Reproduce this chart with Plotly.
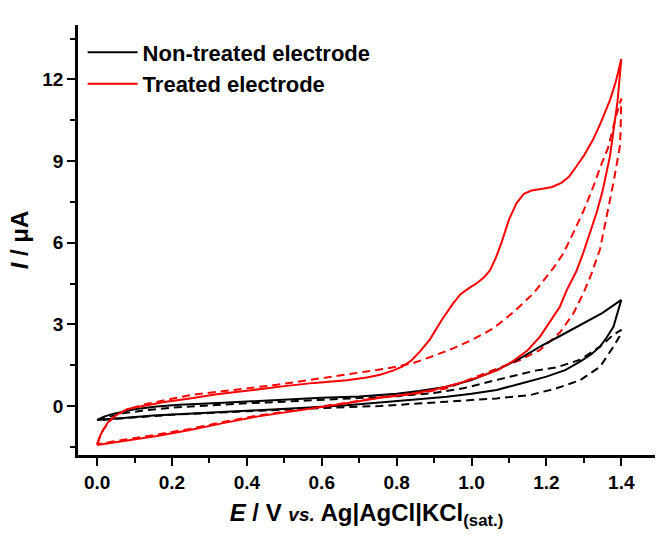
import plotly.graph_objects as go

# ---- data: treated electrode, solid (cycle A) ----
treated_solid_E = [0.000, 0.008, 0.016, 0.030, 0.052, 0.080, 0.115, 0.180, 0.248, 0.315, 0.382, 0.450,
                   0.506, 0.580, 0.667, 0.720, 0.756, 0.790, 0.815, 0.840, 0.862, 0.889, 0.920, 0.950, 0.970,
                   0.995, 1.015, 1.035, 1.050, 1.065, 1.080, 1.100, 1.120, 1.140, 1.160, 1.190, 1.215,
                   1.240, 1.260, 1.280, 1.300, 1.325, 1.345, 1.370, 1.385, 1.400,
                   1.390, 1.370, 1.350, 1.334, 1.315, 1.299, 1.280, 1.254, 1.236, 1.210, 1.183, 1.150,
                   1.111, 1.070, 1.023, 0.970, 0.900, 0.840, 0.756, 0.667, 0.580, 0.506, 0.426, 0.340,
                   0.248, 0.160, 0.070, 0.026, 0.000]
treated_solid_I = [-1.43, -1.10, -0.88, -0.58, -0.33, -0.12, -0.02, 0.15, 0.28, 0.42, 0.53, 0.65,
                   0.74, 0.85, 0.95, 1.05, 1.15, 1.30, 1.45, 1.68, 2.00, 2.45, 3.15, 3.75, 4.10,
                   4.35, 4.52, 4.75, 5.00, 5.45, 6.00, 6.85, 7.45, 7.80, 7.92, 7.98, 8.05,
                   8.20, 8.42, 8.80, 9.20, 9.80, 10.40, 11.25, 11.90, 12.75,
                   11.20, 9.20, 7.90, 7.10, 6.30, 5.65, 4.95, 4.25, 3.65, 3.10, 2.55, 2.05,
                   1.65, 1.32, 1.08, 0.85, 0.60, 0.45, 0.30, 0.10, -0.08, -0.21, -0.39, -0.62,
                   -0.88, -1.10, -1.27, -1.37, -1.43]

# ---- data: treated electrode, dashed (cycle B) ----
treated_dash_E = [0.000, 0.015, 0.040, 0.080, 0.133, 0.190, 0.248, 0.320, 0.400, 0.480, 0.540, 0.622,
                  0.711, 0.774, 0.800, 0.845, 0.900, 0.951, 1.000, 1.058, 1.112, 1.165, 1.218, 1.245,
                  1.273, 1.300, 1.325, 1.343, 1.365, 1.385, 1.400,
                  1.397, 1.379, 1.361, 1.343, 1.320, 1.299, 1.272, 1.236, 1.183, 1.130, 1.058, 1.000,
                  0.934, 0.850, 0.756, 0.667, 0.580, 0.506, 0.426, 0.340, 0.248, 0.160, 0.070, 0.026, 0.000]
treated_dash_I = [-1.40, -0.90, -0.45, -0.12, 0.08, 0.25, 0.40, 0.52, 0.64, 0.78, 0.90, 1.06,
                  1.25, 1.38, 1.45, 1.58, 1.85, 2.12, 2.42, 2.85, 3.45, 4.13, 5.06, 5.60,
                  6.40, 7.20, 8.05, 8.75, 9.50, 10.60, 11.30,
                  9.60, 8.20, 6.95, 5.75, 4.85, 4.15, 3.40, 2.70, 2.06, 1.69, 1.32, 1.00,
                  0.65, 0.45, 0.32, 0.12, -0.06, -0.19, -0.36, -0.58, -0.84, -1.05, -1.24, -1.35, -1.40]

# ---- data: non-treated electrode, solid ----
nontreated_solid_E = [0.000, 0.020, 0.045, 0.070, 0.100, 0.159, 0.220, 0.337, 0.420, 0.506, 0.600, 0.700,
                      0.756, 0.800, 0.860, 0.934, 1.000, 1.067, 1.130, 1.183, 1.240, 1.290, 1.350, 1.400,
                      1.390, 1.379, 1.360, 1.343, 1.320, 1.290, 1.250, 1.200, 1.130, 1.067, 1.000, 0.934,
                      0.850, 0.756, 0.667, 0.580, 0.506, 0.400, 0.300, 0.220, 0.150, 0.070, 0.030, 0.000]
nontreated_solid_I = [-0.51, -0.38, -0.28, -0.20, -0.12, -0.02, 0.05, 0.12, 0.18, 0.24, 0.30, 0.35,
                      0.40, 0.45, 0.55, 0.71, 0.95, 1.32, 1.75, 2.18, 2.60, 2.97, 3.42, 3.90,
                      3.40, 2.91, 2.50, 2.18, 1.90, 1.63, 1.32, 1.08, 0.82, 0.59, 0.45, 0.34,
                      0.24, 0.12, 0.03, -0.05, -0.10, -0.17, -0.24, -0.29, -0.35, -0.44, -0.48, -0.51]

# ---- data: non-treated electrode, dashed ----
nontreated_dash_E = [0.000, 0.030, 0.070, 0.120, 0.200, 0.300, 0.400, 0.500, 0.600, 0.700, 0.800, 0.900,
                     0.978, 1.050, 1.112, 1.170, 1.227, 1.290, 1.343, 1.379, 1.400,
                     1.395, 1.379, 1.343, 1.290, 1.227, 1.156, 1.067, 0.934, 0.850, 0.756, 0.667, 0.580,
                     0.500, 0.400, 0.300, 0.200, 0.120, 0.050, 0.000]
nontreated_dash_I = [-0.52, -0.40, -0.27, -0.17, -0.06, 0.03, 0.10, 0.16, 0.22, 0.28, 0.36, 0.48,
                     0.65, 0.90, 1.12, 1.30, 1.42, 1.70, 2.18, 2.62, 2.80,
                     2.55, 2.18, 1.44, 0.95, 0.65, 0.40, 0.28, 0.16, 0.08, 0.00, -0.04, -0.08,
                     -0.12, -0.19, -0.26, -0.32, -0.40, -0.47, -0.52]

legend_names = ["Non-treated electrode", "Treated electrode"]
x_ticks = [0.0, 0.2, 0.4, 0.6, 0.8, 1.0, 1.2, 1.4]
x_tick_labels = ["0.0", "0.2", "0.4", "0.6", "0.8", "1.0", "1.2", "1.4"]
y_ticks = [0, 3, 6, 9, 12]
y_tick_labels = ["0", "3", "6", "9", "12"]

BLACK = "#000000"
RED = "#ff0000"
DASH = "8px,5px"

fig = go.Figure()
fig.add_trace(go.Scatter(x=nontreated_dash_E, y=nontreated_dash_I, mode="lines",
                         line=dict(color=BLACK, width=2, dash=DASH), showlegend=False))
fig.add_trace(go.Scatter(x=treated_dash_E, y=treated_dash_I, mode="lines",
                         line=dict(color=RED, width=2, dash=DASH), showlegend=False))
fig.add_trace(go.Scatter(x=nontreated_solid_E, y=nontreated_solid_I, mode="lines", name=legend_names[0],
                         line=dict(color=BLACK, width=2), legendrank=1))
fig.add_trace(go.Scatter(x=treated_solid_E, y=treated_solid_I, mode="lines", name=legend_names[1],
                         line=dict(color=RED, width=2), legendrank=2))

axis_common = dict(
    showline=True, linecolor="black", linewidth=2.5, mirror=False,
    ticks="outside", ticklen=8, tickwidth=2, tickcolor="black",
    showgrid=False, zeroline=False,
    tickfont=dict(family="Liberation Sans, Arial, sans-serif", size=19, color="black", weight="bold"),
)

fig.update_layout(
    width=659, height=541,
    margin=dict(l=78, r=4, t=25, b=86),
    plot_bgcolor="white", paper_bgcolor="white",
    font=dict(family="Liberation Sans, Arial, sans-serif", color="black"),
    legend=dict(x=0.008, y=0.985, xanchor="left", yanchor="top", bgcolor="rgba(0,0,0,0)",
                font=dict(size=22, weight="bold", color="black"), itemwidth=50,
                traceorder="normal"),
    xaxis=dict(range=[-0.051, 1.49], tickvals=x_ticks, ticktext=x_tick_labels,
               minor=dict(dtick=0.1, ticks="outside", ticklen=5, tickwidth=2, tickcolor="black"),
               title=dict(text="<i>E</i> / V <i><span style='font-size:19px'>vs.</span></i> Ag|AgCl|KCl<sub>(sat.)</sub>",
                          font=dict(size=24, weight="bold"), standoff=13),
               **axis_common),
    yaxis=dict(range=[-1.8, 14], tickvals=y_ticks, ticktext=y_tick_labels,
               minor=dict(dtick=1.5, tick0=0, ticks="outside", ticklen=5, tickwidth=2, tickcolor="black"),
               title=dict(text="<i>I</i> / μA", font=dict(size=24, weight="bold"), standoff=7),
               **axis_common),
)

fig.write_html("out.html")
